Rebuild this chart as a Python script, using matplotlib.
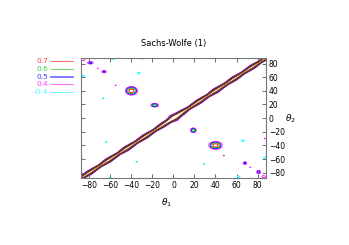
import numpy as np
import matplotlib
matplotlib.use("Agg")
import matplotlib.pyplot as plt
from matplotlib.lines import Line2D

# Contour levels and their colours (legend lists the first five)
LEVELS = [0.7, 0.6, 0.5, 0.4, -0.4]
LEVEL_COLORS = ["#ff0000", "#00c000", "#0000ff", "#ff00ff", "#00ffff"]
EXTRA_LEVELS = [0.8, 0.9]
EXTRA_COLORS = ["#000000", "#a0522d"]

TICKS = [-80, -60, -40, -20, 0, 20, 40, 60, 80]

# Correlation features above the diagonal (mirrored across theta1 = theta2)
BLOB_X = [-40, -18, -66, -79, -55, -72, -30, -86]
BLOB_Y = [40, 19, 68, 81, 48, 73, 87, 86]
BLOB_A = [0.78, 0.63, 0.53, 0.55, 0.43, 0.42, 0.43, 0.48]
BLOB_SX = [5.0, 3.4, 2.8, 3.2, 1.4, 1.4, 1.4, 2.5]
BLOB_SY = [5.5, 2.6, 2.3, 2.3, 1.4, 1.4, 1.4, 2.5]

# anticorrelated spots (-0.4 contours)
NEG_X = [-33, -67, -86, -58, -64, -60]
NEG_Y = [66, 29, 62, 87, -35, -88]
NEG_A = [-0.45, -0.44, -0.45, -0.45, -0.44, -0.45]
NEG_S = [2.6, 1.8, 2.5, 2.5, 1.8, 2.5]

# beads along the diagonal ridge: position (theta1+theta2)/2 and width
BEAD_S = [-88, -80, -70, -62, -52, -45, -35, -27, -18, -10, -3, 8, 15, 24, 33, 40, 50, 58, 66, 75, 82, 90]
BEAD_W = [2.2, 3.4, 2.2, 3.5, 2.3, 3.6, 2.4, 3.4, 2.3, 3.5, 2.6, 3.6, 2.3, 3.4, 2.4, 3.7, 2.4, 3.4, 2.3, 3.3, 2.2, 3.0]

# broad bump at the origin, stretched along the anti-diagonal
CENTER_A = 0.39
CENTER_W = (5.0, 12.0)

t = np.linspace(-88, 88, 353)
X, Y = np.meshgrid(t, t)

s = (X + Y) / 2
d = (X - Y)
w = np.interp(s, BEAD_S, BEAD_W)
Z = np.exp(-d ** 2 / (2 * w ** 2))


def gauss(cx, cy, sx, sy):
    return np.exp(-((X - cx) ** 2 / (2 * sx ** 2) + (Y - cy) ** 2 / (2 * sy ** 2)))


for cx, cy, a, sx, sy in zip(BLOB_X, BLOB_Y, BLOB_A, BLOB_SX, BLOB_SY):
    Z += a * gauss(cx, cy, sx, sy)
    Z += a * gauss(cy, cx, sy, sx)
for cx, cy, a, sg in zip(NEG_X, NEG_Y, NEG_A, NEG_S):
    Z += a * gauss(cx, cy, sg, sg)
    Z += a * gauss(cy, cx, sg, sg)

u = (X + Y) / np.sqrt(2)
v = (X - Y) / np.sqrt(2)
Z += CENTER_A * np.exp(-(u ** 2 / (2 * CENTER_W[0] ** 2) + v ** 2 / (2 * CENTER_W[1] ** 2)))

fig = plt.figure(figsize=(3.49, 2.45), dpi=100)
ax = fig.add_axes([0.232, 0.273, 0.530, 0.490])

all_lv = LEVELS + EXTRA_LEVELS
all_col = LEVEL_COLORS + EXTRA_COLORS
order = np.argsort(all_lv)
ax.contour(X, Y, Z, levels=[all_lv[i] for i in order],
           colors=[all_col[i] for i in order], linewidths=0.6)

ax.set_xlim(-88, 88)
ax.set_ylim(-88, 88)
ax.set_xticks(TICKS)
ax.set_yticks(TICKS)
ax.tick_params(direction="in", length=3, width=0.6, labelsize=5.5,
               top=True, right=True, labelleft=False, labelright=True,
               color="#555555", pad=2)
for sp in ax.spines.values():
    sp.set_color("#777777")
    sp.set_linewidth(0.8)

ax.set_title("Sachs-Wolfe (1)", fontsize=6, pad=9)
fig.text(167 / 349, 1 - 203 / 245, r"$\theta_1$", fontsize=6.5,
         ha="center", va="center")
fig.text(290 / 349, 1 - 119 / 245, r"$\theta_2$", fontsize=6.5,
         ha="center", va="center")

# gnuplot-style key: label, then line sample
key_y = [61, 69, 77, 84, 92]
for lv, col, ky in zip(LEVELS, LEVEL_COLORS, key_y):
    yy = 1 - ky / 245
    fig.text(48 / 349, yy, f"{lv:g}", color=col, fontsize=5.3,
             ha="right", va="center", alpha=0.75)
    fig.add_artist(Line2D([51 / 349, 73 / 349], [yy, yy], color=col,
                          lw=1.2 if lv == 0.5 else 0.7, alpha=0.6,
                          transform=fig.transFigure))

fig.savefig("out.png", dpi=100)
